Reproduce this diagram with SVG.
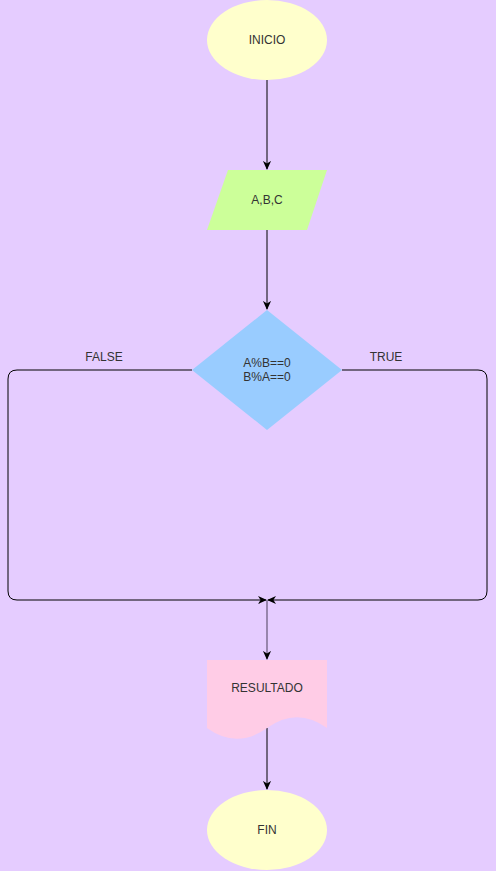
<svg xmlns="http://www.w3.org/2000/svg" width="496" height="871" viewBox="0 0 496 871">
<style>
text{font-family:"Liberation Sans",Arial,Helvetica,sans-serif;font-size:12px;fill:#333333;text-anchor:middle;dominant-baseline:central}
.edge{fill:none;stroke:#000000;stroke-width:1}
</style>
<defs>
<marker id="arr" viewBox="0 0 10 10" refX="9" refY="5" markerWidth="9" markerHeight="9" markerUnits="userSpaceOnUse" orient="auto">
<path d="M0,0.5 L10,5 L0,9.5 L3,5 Z" fill="#000000"/>
</marker>
</defs>
<rect x="0" y="0" width="496" height="871" fill="#E5CCFF"/>
<g id="connectors">
<path class="edge" d="M267,80 V169" marker-end="url(#arr)"/>
<path class="edge" d="M267,230 V309" marker-end="url(#arr)"/>
<path class="edge" d="M192,370 H17 Q8,370 8,379 V591 Q8,600 17,600 H266" marker-end="url(#arr)"/>
<path class="edge" d="M342,370 H478 Q487,370 487,379 V591 Q487,600 478,600 H268" marker-end="url(#arr)"/>
<path d="M267,600 V659" fill="none" stroke="#6f6080" stroke-width="1.3" marker-end="url(#arr)"/>
<path class="edge" d="M267,728 V789" marker-end="url(#arr)"/>
<text x="104" y="357">FALSE</text>
<text x="386" y="357">TRUE</text>
</g>
<g id="inicio">
<ellipse cx="267" cy="40" rx="60" ry="40" fill="#FFFFCC"/>
<text x="267" y="40">INICIO</text>
</g>
<g id="entrada">
<polygon points="228,170 327,170 307,230 207,230" fill="#CCFF99"/>
<text x="267" y="200">A,B,C</text>
</g>
<g id="decision">
<polygon points="267,310 342,370 267,430 192,370" fill="#99CCFF"/>
<text x="267" y="363">A%B==0</text>
<text x="267" y="377">B%A==0</text>
</g>
<g id="resultado">
<path d="M207,660 H327 V728 Q297,706.4 267,728 Q237,749.6 207,728 Z" fill="#FFCCE6"/>
<text x="267" y="688">RESULTADO</text>
</g>
<g id="fin">
<ellipse cx="267" cy="830" rx="60" ry="40" fill="#FFFFCC"/>
<text x="267" y="830">FIN</text>
</g>
</svg>
